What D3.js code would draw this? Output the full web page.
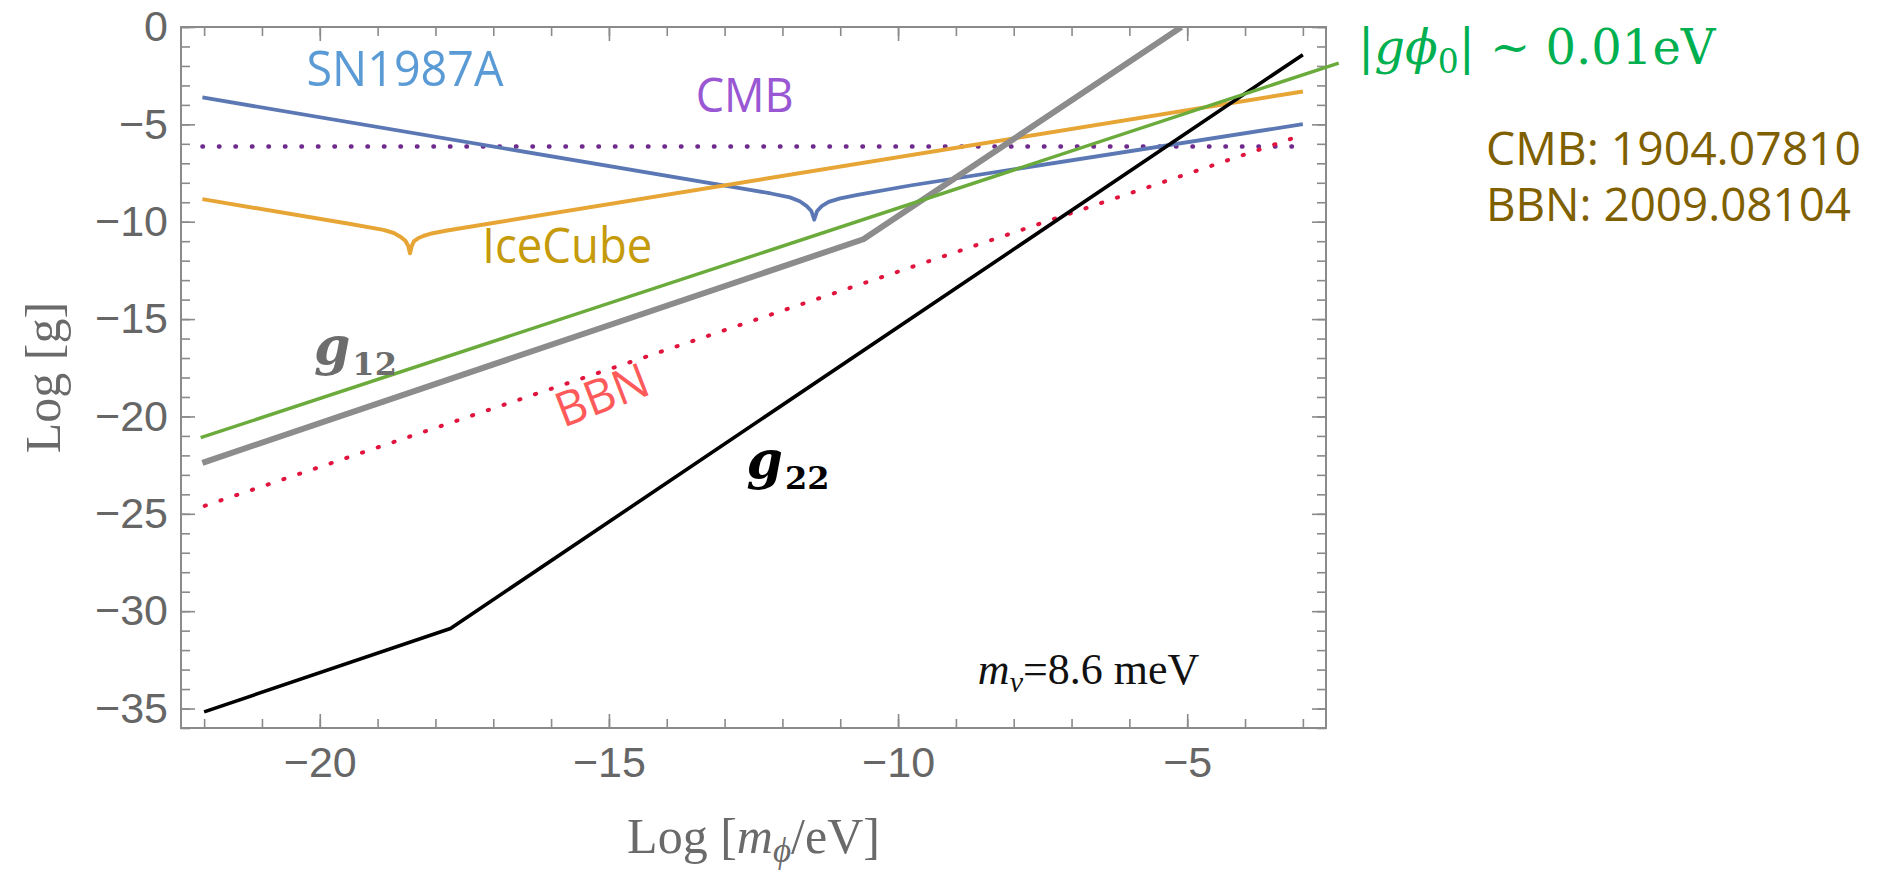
<!DOCTYPE html>
<html>
<head>
<meta charset="utf-8">
<script src="https://cdn.jsdelivr.net/npm/d3@7"></script>
<style>
  body { margin: 0; background: #fff; }
  svg { display: block; }
</style>
</head>
<body>
<div id="chart"></div>
<script>
// log10 of couplings vs log10 of scalar mass
var xMajorTicks = [-20, -15, -10, -5];
var yMajorTicks = [0, -5, -10, -15, -20, -25, -30, -35];

var sn1987aX = [-22.03, -12.56, -12.2, -11.87, -11.7, -11.58, -11.5, -11.45, -11.4, -11.32, -11.2, -11.0, -10.7, -9.79, -3.0];
var sn1987aY = [-3.62, -8.36, -8.55, -8.75, -8.95, -9.2, -9.45, -9.9, -9.45, -9.2, -8.98, -8.8, -8.62, -8.14, -4.99];

var iceCubeX = [-22.03, -19.47, -18.9, -18.72, -18.6, -18.52, -18.47, -18.44, -18.41, -18.37, -18.3, -18.2, -18.09, -17.8, -3.0];
var iceCubeY = [-8.84, -10.12, -10.42, -10.58, -10.78, -10.98, -11.25, -11.62, -11.25, -11.0, -10.85, -10.72, -10.62, -10.45, -3.31];

var cmbX = [-22.03, -3.1];
var cmbY = [-6.14, -6.14];

var bbnX = [-21.99, -3.08];
var bbnY = [-24.59, -5.62];

var g12X = [-22.03, -10.6, -5.1];
var g12Y = [-22.38, -10.9, 0];

var g22X = [-22.0, -17.74, -3.0];
var g22Y = [-35.17, -30.89, -1.42];

var gphiX = [-22.06, -2.38];
var gphiY = [-21.09, -1.85];

function makeChart() {
  var svgWidth = 1890;
  var svgHeight = 871;

  var plot = {left: 181, right: 1326, top: 27, bottom: 728};

  var svg = d3.select("#chart")
    .append("svg")
    .attr("width", svgWidth)
    .attr("height", svgHeight);

  var x = d3.scaleLinear().domain([-22.4, -2.6]).range([plot.left, plot.right]);
  var y = d3.scaleLinear().domain([-36, 0]).range([plot.bottom, plot.top]);

  var xMinor = d3.range(-22, -2);
  var yMinor = d3.range(-36, 1);
  var fmt = d3.format("d");

  // frame ticks, all pointing inward
  function tickAxis(axis, scale, values, size, labelled, transform) {
    var g = svg.append("g")
      .attr("transform", transform)
      .call(axis(scale).tickValues(values).tickSize(-size).tickSizeOuter(0)
        .tickPadding(axis === d3.axisBottom ? 18 : 13)
        .tickFormat(labelled ? fmt : ""));
    g.select(".domain").remove();
    g.selectAll(".tick line").attr("stroke", "#8a8a8a").attr("stroke-width", 1.6);
    g.selectAll("text")
      .attr("font-family", "Liberation Sans, Arial, sans-serif")
      .attr("font-size", 43)
      .attr("fill", "#666");
    return g;
  }

  tickAxis(d3.axisBottom, x, xMinor, 9, false, `translate(0,${plot.bottom})`);
  tickAxis(d3.axisBottom, x, xMajorTicks, 14, true, `translate(0,${plot.bottom})`);
  tickAxis(d3.axisTop, x, xMinor, 9, false, `translate(0,${plot.top})`);
  tickAxis(d3.axisTop, x, xMajorTicks, 14, false, `translate(0,${plot.top})`);
  tickAxis(d3.axisLeft, y, yMinor, 9, false, `translate(${plot.left},0)`);
  tickAxis(d3.axisLeft, y, yMajorTicks, 14, true, `translate(${plot.left},0)`);
  tickAxis(d3.axisRight, y, yMinor, 9, false, `translate(${plot.right},0)`);
  tickAxis(d3.axisRight, y, yMajorTicks, 14, false, `translate(${plot.right},0)`);

  svg.append("rect")
    .attr("x", plot.left)
    .attr("y", plot.top)
    .attr("width", plot.right - plot.left)
    .attr("height", plot.bottom - plot.top)
    .attr("fill", "none")
    .attr("stroke", "#8a8a8a")
    .attr("stroke-width", 2);

  svg.append("clipPath")
    .attr("id", "plotClip")
    .append("rect")
    .attr("x", plot.left)
    .attr("y", plot.top)
    .attr("width", plot.right - plot.left)
    .attr("height", plot.bottom - plot.top);

  var line = d3.line().x(d => x(d[0])).y(d => y(d[1]));

  var curves = svg.append("g").attr("clip-path", "url(#plotClip)");

  function drawCurve(group, xs, ys, color, width, dash) {
    var p = group.append("path")
      .datum(d3.zip(xs, ys))
      .attr("d", line)
      .attr("fill", "none")
      .attr("stroke", color)
      .attr("stroke-width", width)
      .attr("stroke-linejoin", "round");
    if (dash) {
      p.attr("stroke-dasharray", dash).attr("stroke-linecap", "round");
    }
    return p;
  }

  drawCurve(curves, cmbX, cmbY, "#6e2a8c", 4.4, "0.6 15.9");
  drawCurve(curves, sn1987aX, sn1987aY, "#5b78b4", 3.8);
  drawCurve(curves, iceCubeX, iceCubeY, "#e6a534", 4.0);
  drawCurve(curves, g12X, g12Y, "#8c8c8c", 6);
  drawCurve(curves, bbnX, bbnY, "#e0143c", 4.0, "1.2 15.4");
  drawCurve(curves, g22X, g22Y, "#000", 3.6);
  // the |g phi0| line runs out of the frame towards its label
  drawCurve(svg, gphiX, gphiY, "#6aab3c", 3.4);

  // axis titles
  var serif = "Liberation Serif, Times New Roman, serif";
  var xTitle = svg.append("text")
    .attr("x", (plot.left + plot.right) / 2)
    .attr("y", 853)
    .attr("text-anchor", "middle")
    .attr("font-family", serif)
    .attr("font-size", 50)
    .attr("fill", "#6a6a6a");
  xTitle.append("tspan").text("Log [");
  xTitle.append("tspan").attr("font-style", "italic").text("m");
  xTitle.append("tspan").attr("font-style", "italic").attr("font-size", 35).attr("dy", 9).text("ϕ");
  xTitle.append("tspan").attr("dy", -9).text("/eV]");

  svg.append("text")
    .attr("transform", `translate(60, ${(plot.top + plot.bottom) / 2}) rotate(-90)`)
    .attr("text-anchor", "middle")
    .attr("font-family", serif)
    .attr("font-size", 50)
    .attr("fill", "#6a6a6a")
    .text("Log [g]");

  // curve labels
  var sans = "Open Sans, Noto Sans, sans-serif";
  function label(xv, yv, txt, color, size, len) {
    return svg.append("text")
      .attr("x", x(xv))
      .attr("y", y(yv))
      .attr("font-family", sans)
      .attr("font-size", size)
      .attr("fill", color)
      .attr("textLength", len)
      .attr("lengthAdjust", "spacingAndGlyphs")
      .text(txt);
  }

  label(-20.23, -3.05, "SN1987A", "#5b9bd5", 50, 197);
  label(-13.5, -4.34, "CMB", "#9a57d3", 48, 98);
  label(-17.19, -12.13, "IceCube", "#c59a0b", 49, 170);

  svg.append("text")
    .attr("transform", `translate(${x(-15.79)}, ${y(-20.59)}) rotate(-21)`)
    .attr("font-family", sans)
    .attr("font-size", 48)
    .attr("fill", "#ff5a5a")
    .attr("textLength", 96)
    .attr("lengthAdjust", "spacingAndGlyphs")
    .text("BBN");

  var mathFont = "DejaVu Serif, serif";
  function gLabel(xv, yv, sub, color) {
    var t = svg.append("text")
      .attr("x", x(xv))
      .attr("y", y(yv))
      .attr("font-family", mathFont)
      .attr("font-weight", "bold")
      .attr("fill", color);
    t.append("tspan").attr("font-style", "italic").attr("font-size", 52).text("g");
    t.append("tspan").attr("font-size", 32).attr("dy", 11).attr("dx", 2).text(sub);
  }
  gLabel(-20.1, -17.3, "12", "#6d6d6d");
  gLabel(-12.62, -23.16, "22", "#000");

  var mnu = svg.append("text")
    .attr("x", x(-8.62))
    .attr("y", y(-33.75))
    .attr("font-family", serif)
    .attr("font-size", 44)
    .attr("fill", "#111");
  mnu.append("tspan").attr("font-style", "italic").text("m");
  mnu.append("tspan").attr("font-style", "italic").attr("font-size", 30).attr("dy", 8).text("ν");
  mnu.append("tspan").attr("dy", -8).text("=8.6 meV");

  // annotations outside the frame
  var gphi = svg.append("text")
    .attr("x", 1358)
    .attr("y", 64)
    .attr("font-family", mathFont)
    .attr("font-size", 48)
    .attr("fill", "#00b050");
  gphi.append("tspan").text("|");
  gphi.append("tspan").attr("font-style", "italic").text("gϕ");
  gphi.append("tspan").attr("font-size", 33).attr("dy", 9).text("0");
  gphi.append("tspan").attr("dy", -9).text("| ~ 0.01eV");

  svg.append("text")
    .attr("x", 1486).attr("y", 165)
    .attr("font-family", sans).attr("font-size", 45).attr("fill", "#7f6000")
    .attr("textLength", 375).attr("lengthAdjust", "spacingAndGlyphs")
    .text("CMB: 1904.07810");

  svg.append("text")
    .attr("x", 1486).attr("y", 221)
    .attr("font-family", sans).attr("font-size", 45).attr("fill", "#7f6000")
    .attr("textLength", 365).attr("lengthAdjust", "spacingAndGlyphs")
    .text("BBN: 2009.08104");
}

makeChart();
</script>
</body>
</html>
